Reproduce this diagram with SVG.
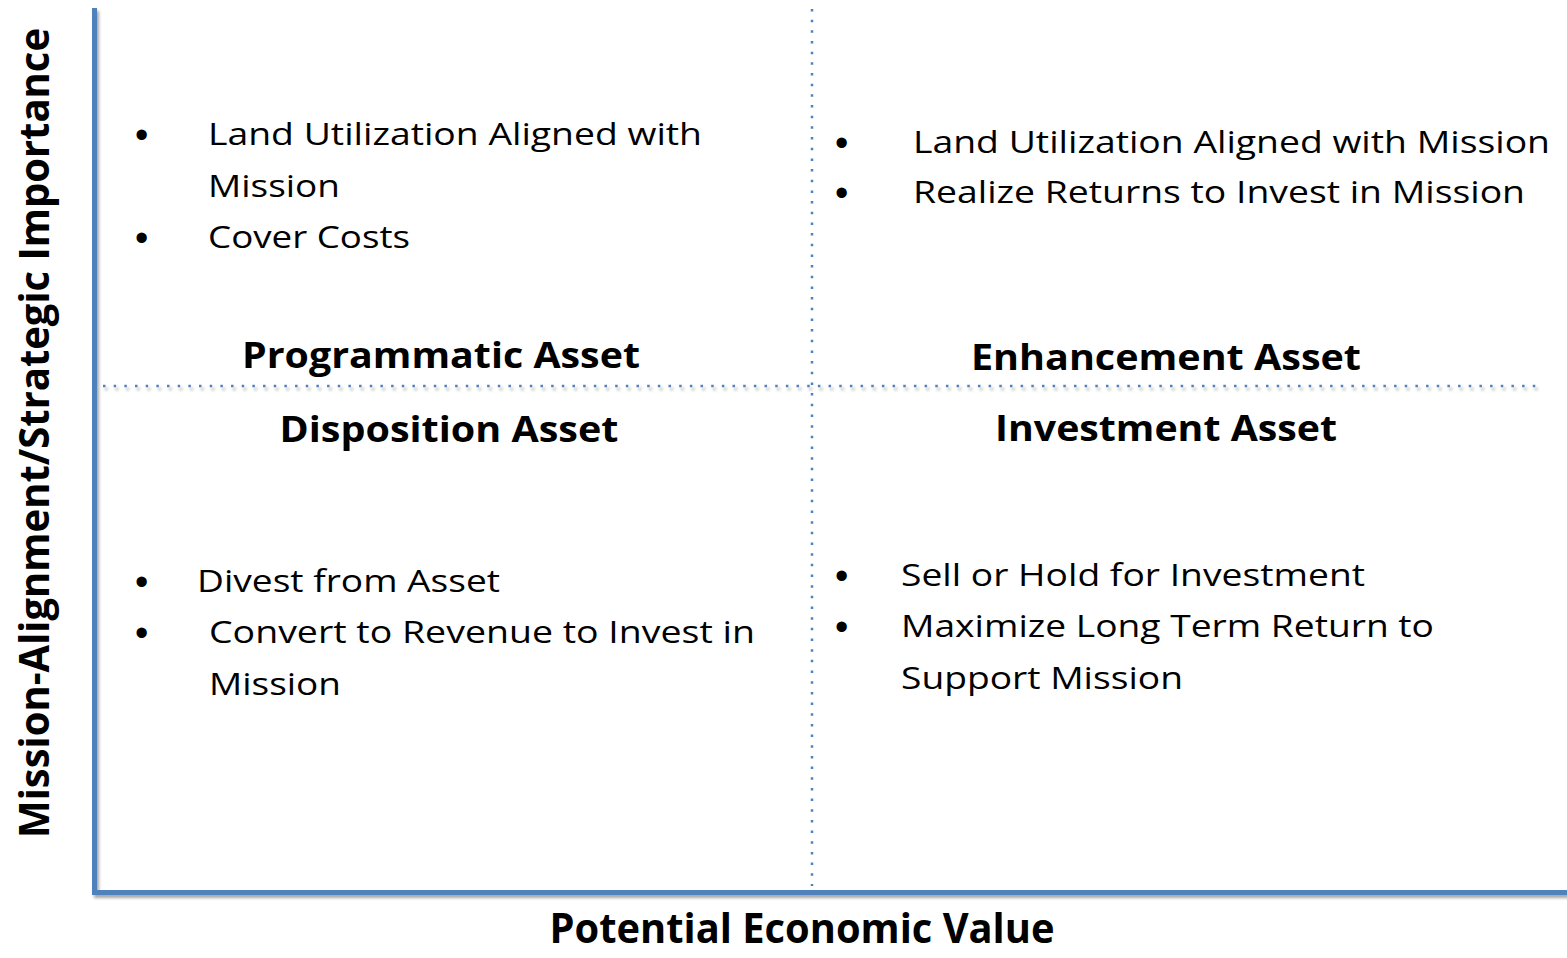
<svg xmlns="http://www.w3.org/2000/svg" width="1567" height="958" viewBox="0 0 1567 958">
<style>
.b{font-family:"Open Sans","Liberation Sans",sans-serif;font-size:31px;fill:#000}
.bu{font-family:"Liberation Sans",sans-serif;font-size:38px;fill:#000}
.t{font-family:"Open Sans","Liberation Sans",sans-serif;font-size:35px;font-weight:bold;fill:#000}
.ax{font-family:"Open Sans","Liberation Sans",sans-serif;font-size:41px;font-weight:bold;fill:#000}
.dot{stroke:#4F81BD;stroke-width:2.5;stroke-dasharray:2.5 8.17;fill:none}
.axis{fill:#4F81BD}
</style>
<defs>
<filter id="sh" filterUnits="userSpaceOnUse" x="0" y="0" width="1567" height="958">
<feDropShadow dx="2" dy="3" stdDeviation="1.5" flood-color="#000" flood-opacity="0.35"/>
</filter>
</defs>
<rect width="1567" height="958" fill="#fff"/>
<g id="connectors">
<line class="dot" x1="103" y1="386" x2="1540" y2="386" filter="url(#sh)"/>
<line class="dot" x1="812" y1="9" x2="812" y2="886"/>
<g filter="url(#sh)">
<rect class="axis" x="92" y="8" width="5" height="887"/>
<rect class="axis" x="92" y="890" width="1475" height="5"/>
</g>
</g>
<g id="y-axis-label">
<text class="ax" transform="translate(49,433) rotate(-90)" text-anchor="middle" textLength="810" lengthAdjust="spacingAndGlyphs">Mission-Alignment/Strategic Importance</text>
</g>
<g id="x-axis-label">
<text class="ax" x="802" y="943" text-anchor="middle" textLength="505" lengthAdjust="spacingAndGlyphs">Potential Economic Value</text>
</g>
<g id="programmatic">
<text class="bu" x="135" y="148">•</text>
<text class="b" x="208" y="145" textLength="494" lengthAdjust="spacingAndGlyphs">Land Utilization Aligned with</text>
<text class="b" x="208" y="197" textLength="132" lengthAdjust="spacingAndGlyphs">Mission</text>
<text class="bu" x="135" y="251">•</text>
<text class="b" x="208" y="248" textLength="202" lengthAdjust="spacingAndGlyphs">Cover Costs</text>
<text class="t" x="441" y="368" text-anchor="middle" textLength="398" lengthAdjust="spacingAndGlyphs">Programmatic Asset</text>
</g>
<g id="enhancement">
<text class="bu" x="835" y="156">•</text>
<text class="b" x="913" y="153" textLength="637" lengthAdjust="spacingAndGlyphs">Land Utilization Aligned with Mission</text>
<text class="bu" x="835" y="206">•</text>
<text class="b" x="913" y="203" textLength="612" lengthAdjust="spacingAndGlyphs">Realize Returns to Invest in Mission</text>
<text class="t" x="1166" y="370" text-anchor="middle" textLength="390" lengthAdjust="spacingAndGlyphs">Enhancement Asset</text>
</g>
<g id="disposition">
<text class="t" x="449" y="442" text-anchor="middle" textLength="339" lengthAdjust="spacingAndGlyphs">Disposition Asset</text>
<text class="bu" x="135" y="595">•</text>
<text class="b" x="197" y="592" textLength="303" lengthAdjust="spacingAndGlyphs">Divest from Asset</text>
<text class="bu" x="135" y="646">•</text>
<text class="b" x="209" y="643" textLength="546" lengthAdjust="spacingAndGlyphs">Convert to Revenue to Invest in</text>
<text class="b" x="209" y="695" textLength="132" lengthAdjust="spacingAndGlyphs">Mission</text>
</g>
<g id="investment">
<text class="t" x="1166" y="441" text-anchor="middle" textLength="342" lengthAdjust="spacingAndGlyphs">Investment Asset</text>
<text class="bu" x="835" y="589">•</text>
<text class="b" x="901" y="586" textLength="464" lengthAdjust="spacingAndGlyphs">Sell or Hold for Investment</text>
<text class="bu" x="835" y="640">•</text>
<text class="b" x="901" y="637" textLength="533" lengthAdjust="spacingAndGlyphs">Maximize Long Term Return to</text>
<text class="b" x="901" y="689" textLength="282" lengthAdjust="spacingAndGlyphs">Support Mission</text>
</g>
</svg>
